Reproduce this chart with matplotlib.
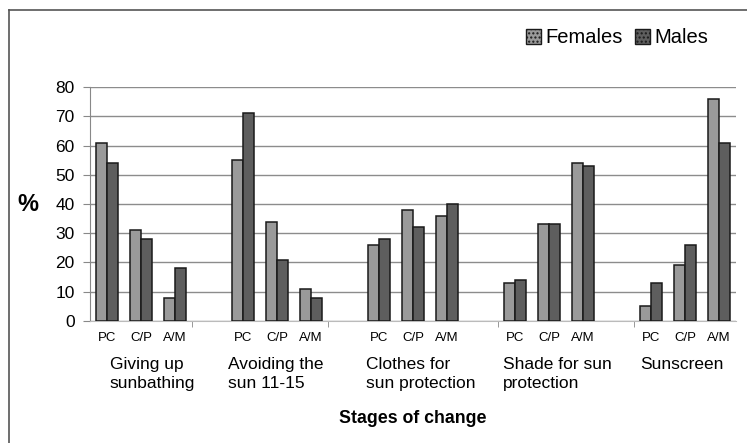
import numpy as np
import matplotlib
matplotlib.use("Agg")
import matplotlib.pyplot as plt
from matplotlib.lines import Line2D
from matplotlib.patches import Patch

plt.rcParams['font.family'] = ['Liberation Sans', 'DejaVu Sans']

# data
groups = ['Giving up\nsunbathing', 'Avoiding the\nsun 11-15', 'Clothes for\nsun protection',
          'Shade for sun\nprotection', 'Sunscreen']
stages = ['PC', 'C/P', 'A/M']
females = [61, 31, 8, 55, 34, 11, 26, 38, 36, 13, 33, 54, 5, 19, 76]
males = [54, 28, 18, 71, 21, 8, 28, 32, 40, 14, 33, 53, 13, 26, 61]

# category positions: 3 stages per group, one empty slot between groups
pos = []
for g in range(len(groups)):
    for s in range(len(stages)):
        pos.append(g * 4 + s)
pos = np.array(pos)

fig = plt.figure(figsize=(7.47, 4.43), dpi=100)
ax = fig.add_axes([0.1205, 0.2754, 0.8648, 0.5282])

w = 0.32
ax.bar(pos - w / 2, females, width=w, color='#9a9a9a', edgecolor='#1a1a1a', linewidth=1.1, zorder=3)
ax.bar(pos + w / 2, males, width=w, color='#5e5e5e', edgecolor='#1a1a1a', linewidth=1.1, zorder=3)

ax.set_xlim(-0.5, 18.5)
ax.set_ylim(0, 80)
ax.set_yticks(range(0, 81, 10))
ax.tick_params(axis='y', labelsize=12.5, length=5, color='#888888', pad=6)
ax.yaxis.grid(True, color='#8c8c8c', linewidth=1.0, zorder=0)

ax.set_xticks(pos)
ax.set_xticklabels(stages * len(groups), fontsize=9.5)
ax.tick_params(axis='x', length=0, pad=8)
ax.set_xticks([2.5, 6.5, 11.5, 15.5], minor=True)
ax.tick_params(axis='x', which='minor', length=4, color='#888888')

for sp in ['top', 'right']:
    ax.spines[sp].set_visible(False)
ax.spines['left'].set_color('#888888')
ax.spines['bottom'].set_color('#bbbbbb')

# group labels under the stage labels (small per-group nudges as in the original)
nudge = [1.34, 0.95, 1.22, 1.25, 0.9]
for g, name in enumerate(groups):
    ax.text(g * 4 + nudge[g], -0.155, name, transform=ax.get_xaxis_transform(),
            ha='center', va='top', multialignment='left', fontsize=12.5, linespacing=1.35)

ax.text(9.0, -0.38, 'Stages of change', transform=ax.get_xaxis_transform(),
        ha='center', va='top', fontsize=12.8, fontweight='bold')
ax.set_ylabel('%', fontsize=17, fontweight='bold', rotation=0, labelpad=20, va='center')

handles = [Patch(facecolor='#9a9a9a', edgecolor='#1a1a1a', hatch='....'),
           Patch(facecolor='#5e5e5e', edgecolor='#1a1a1a', hatch='....')]
fig.legend(handles, ['Females', 'Males'], loc='center', bbox_to_anchor=(0.826, 0.915),
           ncol=2, frameon=False, fontsize=14.5, handlelength=0.75, handleheight=0.75,
           handletextpad=0.2, columnspacing=0.6)

# outer frame (left and top edges)
fig.add_artist(Line2D([0.012, 0.012], [0.0, 0.977], color='#555555', linewidth=1.2))
fig.add_artist(Line2D([0.012, 1.0], [0.977, 0.977], color='#555555', linewidth=1.2))

fig.savefig('out.png', dpi=100)
